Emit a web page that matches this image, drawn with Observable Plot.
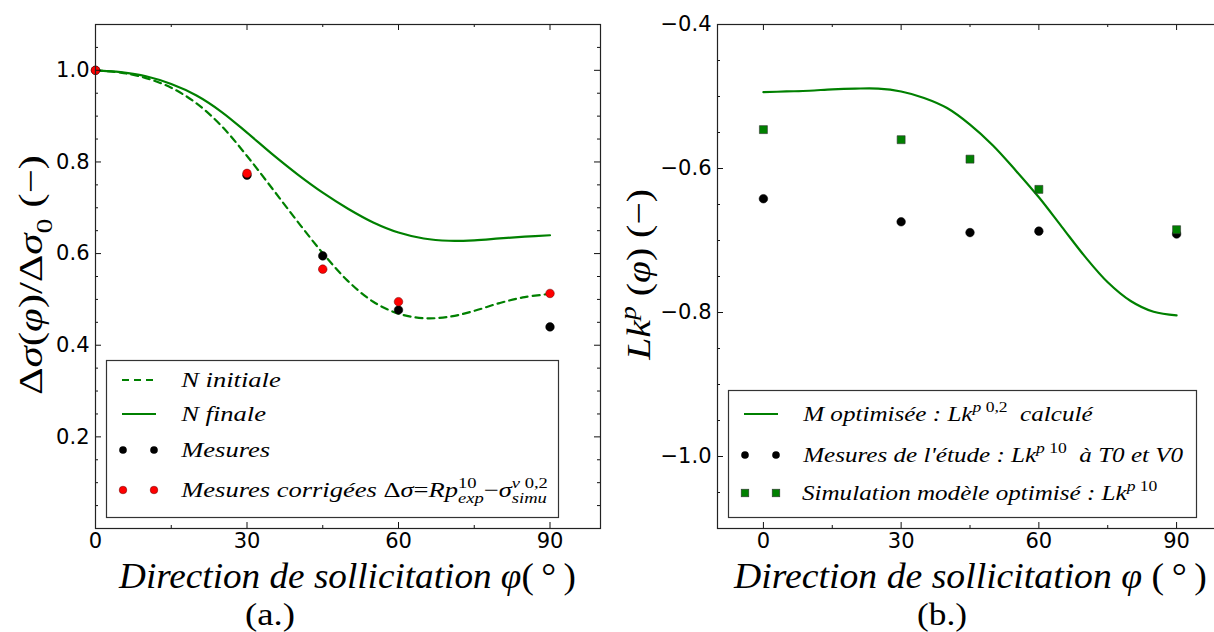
<!DOCTYPE html>
<html>
<head>
<meta charset="utf-8">
<script src="https://cdn.jsdelivr.net/npm/d3@7"></script>
<script src="https://cdn.jsdelivr.net/npm/@observablehq/plot@0.6"></script>
<style>
  body { margin: 0; background: #fff; }
  #wrap { position: relative; width: 1214px; height: 632px; overflow: hidden; background: #fff; }
  #wrap > svg { position: absolute; }
</style>
</head>
<body>
<div id="wrap"></div>
<script>
// ---------- Panel (a.) data ----------
const phiCurveA = [0, 5, 10, 15, 20, 25, 30, 35, 40, 45, 50, 55, 60, 65, 70, 75, 80, 85, 90];
const nInitiale = [1.000, 0.995, 0.983, 0.962, 0.928, 0.878, 0.813, 0.742, 0.670, 0.601, 0.540, 0.495, 0.469, 0.459, 0.462, 0.475, 0.492, 0.505, 0.512];
const nFinale   = [1.000, 0.996, 0.987, 0.970, 0.945, 0.909, 0.864, 0.817, 0.773, 0.733, 0.698, 0.668, 0.646, 0.633, 0.628, 0.629, 0.633, 0.637, 0.640];
const phiMesA = [0, 30, 45, 60, 90];
const mesures = [1.000, 0.771, 0.595, 0.477, 0.440];
const mesuresCorrigees = [1.000, 0.775, 0.566, 0.495, 0.513];

// ---------- Panel (b.) data ----------
const phiCurveB = [0, 5, 10, 15, 20, 25, 30, 35, 40, 45, 50, 55, 60, 65, 70, 75, 80, 85, 90];
const lkCalcule = [-0.494, -0.493, -0.492, -0.490, -0.489, -0.489, -0.493, -0.502, -0.516, -0.539, -0.568, -0.603, -0.640, -0.681, -0.722, -0.758, -0.784, -0.799, -0.804];
const phiMesB = [0, 30, 45, 60, 90];
const lkMesures = [-0.642, -0.674, -0.689, -0.687, -0.691];
const lkSimulation = [-0.546, -0.560, -0.587, -0.629, -0.685];

// ---------- ticks ----------
const xTicks = [0, 30, 60, 90];
const xMinorTicks = [15, 45, 75];
const yTicksA = [0.2, 0.4, 0.6, 0.8, 1.0];
const yTickLabelsA = ["0.2", "0.4", "0.6", "0.8", "1.0"];
const yMinorA = [0.05, 0.1, 0.15, 0.25, 0.3, 0.35, 0.45, 0.5, 0.55, 0.65, 0.7, 0.75, 0.85, 0.9, 0.95, 1.05];
const yTicksB = [-0.4, -0.6, -0.8, -1.0];
const yTickLabelsB = ["−0.4", "−0.6", "−0.8", "−1.0"];
const yMinorB = [-0.45, -0.5, -0.55, -0.65, -0.7, -0.75, -0.85, -0.9, -0.95, -1.05];

const GREEN = "#008000", RED = "#ff0000";
const SERIF = "'Liberation Serif', 'DejaVu Serif', serif";
const SANS = "'DejaVu Sans', sans-serif";

function panel({width, height, mL, mR, mT, mB, xDomain, yDomain, yMajor, yMinor, yLabels, marks}) {
  const fw = width - mL - mR, fh = height - mT - mB;
  const M = 6, m = 3;
  const tk = {stroke: "#111", strokeWidth: 1};
  return Plot.plot({
    width, height,
    marginLeft: mL, marginRight: mR, marginTop: mT, marginBottom: mB,
    x: {domain: xDomain},
    y: {domain: yDomain},
    style: {fontFamily: SANS, fontSize: "21px", color: "#000", background: "transparent", overflow: "visible"},
    marks: [
      ...marks,
      Plot.tickX(xTicks, {x: d => d, insetTop: fh - M, ...tk}),
      Plot.tickX(xTicks, {x: d => d, insetBottom: fh - M, ...tk}),
      Plot.tickX(xMinorTicks, {x: d => d, insetTop: fh - m, ...tk}),
      Plot.tickX(xMinorTicks, {x: d => d, insetBottom: fh - m, ...tk}),
      Plot.tickY(yMajor, {y: d => d, insetRight: fw - M, ...tk}),
      Plot.tickY(yMajor, {y: d => d, insetLeft: fw - M, ...tk}),
      Plot.tickY(yMinor, {y: d => d, insetRight: fw - m, ...tk}),
      Plot.tickY(yMinor, {y: d => d, insetLeft: fw - m, ...tk}),
      Plot.frame({stroke: "#222", strokeWidth: 1.2}),
      Plot.axisX(xTicks, {tickSize: 0, tickPadding: 5, label: null, tickFormat: d => String(d)}),
      Plot.axisY(yMajor, {tickSize: 0, tickPadding: 6, label: null, tickFormat: d => yLabels[yMajor.indexOf(d)]})
    ]
  });
}

const wrap = document.getElementById("wrap");

// Panel (a.)
const plotA = panel({
  width: 610, height: 560, mL: 95, mR: 10, mT: 24, mB: 32,
  xDomain: [0, 100], yDomain: [0, 1.1],
  yMajor: yTicksA, yMinor: yMinorA, yLabels: yTickLabelsA,
  marks: [
    Plot.line(nInitiale, {x: phiCurveA, y: d => d, stroke: GREEN, strokeWidth: 2.2, strokeDasharray: "7,5", curve: "catmull-rom"}),
    Plot.line(nFinale, {x: phiCurveA, y: d => d, stroke: GREEN, strokeWidth: 2.2, curve: "catmull-rom"}),
    Plot.dot(mesures, {x: phiMesA, y: d => d, r: 4.3, fill: "#000", stroke: "#000", strokeWidth: 0.5}),
    Plot.dot(mesuresCorrigees, {x: phiMesA, y: d => d, r: 4.3, fill: RED, stroke: "#600", strokeWidth: 0.5})
  ]
});
plotA.style.left = "0px"; plotA.style.top = "0px";
wrap.appendChild(plotA);

// Panel (b.)
const plotB = panel({
  width: 622, height: 560, mL: 107, mR: 10, mT: 24, mB: 32,
  xDomain: [-10, 100], yDomain: [-1.1, -0.4],
  yMajor: yTicksB, yMinor: yMinorB, yLabels: yTickLabelsB,
  marks: [
    Plot.line(lkCalcule, {x: phiCurveB, y: d => d, stroke: GREEN, strokeWidth: 2.2, curve: "catmull-rom"}),
    Plot.dot(lkMesures, {x: phiMesB, y: d => d, r: 4.3, fill: "#000", stroke: "#000", strokeWidth: 0.5}),
    Plot.dot(lkSimulation, {x: phiMesB, y: d => d, r: 4.5, symbol: "square", fill: GREEN, stroke: "#333", strokeWidth: 0.6})
  ]
});
plotB.style.left = "610px"; plotB.style.top = "0px";
wrap.appendChild(plotB);

// ---------- overlay: titles, legends, captions ----------
const ov = d3.select(wrap).append("svg")
  .attr("width", 1214).attr("height", 632)
  .style("left", "0px").style("top", "0px").style("pointer-events", "none");

// parts: {t, i} plain run; {sup:[[text, italic],...], sub:[[text, italic],...]} stacked scripts
function rich(parent, parts, {x, y, size, anchor = "start", target = null, sx = null, rotate = 0}) {
  const g = parent.append("g");
  const t = g.append("text").attr("font-family", SERIF).attr("font-size", size)
    .attr("fill", "#000").style("white-space", "pre");
  const ss = size * 0.7, up = -size * 0.42, dn = size * 0.3;
  let cur = 0, pendingDx = 0;
  const runs = (list, shift) => {
    let w = 0;
    list.forEach(([txt, it], j) => {
      const s = t.append("tspan").text(txt).attr("font-style", it ? "italic" : "normal").attr("font-size", ss);
      if (j === 0) { s.attr("dy", shift - cur); cur = shift; }
      w += s.node().getComputedTextLength();
      if (j === 0) runs.first = s;
    });
    return w;
  };
  for (const p of parts) {
    if (p.t !== undefined) {
      const s = t.append("tspan").text(p.t).attr("font-style", p.i ? "italic" : "normal").attr("font-size", size);
      if (cur) s.attr("dy", -cur);
      cur = 0;
      if (pendingDx) s.attr("dx", pendingDx);
      pendingDx = 0;
    } else {
      let w1 = 0, w2 = 0;
      if (p.sup) {
        w1 = runs(p.sup, up);
        if (pendingDx) runs.first.attr("dx", pendingDx);
        pendingDx = 0;
      }
      if (p.sub) {
        w2 = runs(p.sub, dn);
        if (w1) runs.first.attr("dx", -w1);
        pendingDx = Math.max(0, w1 - w2);
      }
    }
  }
  const bb = t.node().getBBox();
  const k = target ? target / bb.width : (sx || 1);
  const ox = anchor === "middle" ? -(bb.x + bb.width / 2) : -bb.x;
  g.attr("transform", `translate(${x},${y}) rotate(${rotate}) scale(${k},1) translate(${ox},0)`);
  return {g, width: bb.width};
}

// Axis titles
rich(ov, [{t: "Direction de sollicitation φ", i: 1}, {t: "(\u2009°\u2009)"}],
  {x: 347, y: 588, size: 35, anchor: "middle", target: 458});
rich(ov, [{t: "Direction de sollicitation φ ", i: 1}, {t: "(\u2009°\u2009)"}],
  {x: 970, y: 588, size: 35, anchor: "middle", target: 474});
rich(ov, [{t: "Δ"}, {t: "σ", i: 1}, {t: "("}, {t: "φ", i: 1}, {t: ")/Δ"}, {t: "σ", i: 1}, {sub: [["0", 0]]}, {t: " (−)"}],
  {x: 42, y: 275, size: 34, anchor: "middle", target: 240, rotate: -90});
rich(ov, [{t: "Lk", i: 1}, {sup: [["p", 1]]}, {t: " ("}, {t: "φ", i: 1}, {t: ") (−)"}],
  {x: 650, y: 275, size: 34, anchor: "middle", target: 172, rotate: -90});

// Captions
rich(ov, [{t: "(a.)"}], {x: 270, y: 625, size: 32, anchor: "middle", target: 50});
rich(ov, [{t: "(b.)"}], {x: 942, y: 625, size: 32, anchor: "middle", target: 50});

// Legend (a.)
const legA = ov.append("g");
legA.append("rect").attr("x", 106.5).attr("y", 360.5).attr("width", 452).attr("height", 157)
  .attr("fill", "#fff").attr("stroke", "#333").attr("stroke-width", 1.2);
const rowsA = [380, 414, 450, 490];
legA.append("line").attr("x1", 122).attr("x2", 156).attr("y1", rowsA[0]).attr("y2", rowsA[0])
  .attr("stroke", GREEN).attr("stroke-width", 2.2).attr("stroke-dasharray", "7,5");
legA.append("line").attr("x1", 122).attr("x2", 156).attr("y1", rowsA[1]).attr("y2", rowsA[1])
  .attr("stroke", GREEN).attr("stroke-width", 2.2);
[123, 154].forEach(cx => {
  legA.append("circle").attr("cx", cx).attr("cy", rowsA[2]).attr("r", 3.8).attr("fill", "#000");
  legA.append("circle").attr("cx", cx).attr("cy", rowsA[3]).attr("r", 3.8).attr("fill", RED).attr("stroke", "#600").attr("stroke-width", 0.5);
});
const legTextA = [
  [{t: "N initiale", i: 1}],
  [{t: "N finale", i: 1}],
  [{t: "Mesures", i: 1}],
  [{t: "Mesures corrigées ", i: 1}, {t: "Δ"}, {t: "σ", i: 1}, {t: "="}, {t: "Rp", i: 1},
   {sup: [["10", 0]], sub: [["exp", 1]]}, {t: "−"}, {t: "σ", i: 1}, {sup: [["v", 1], [" 0,2", 0]], sub: [["simu", 1]]}]
];
{
  const probe = rich(legA, legTextA[3], {x: -2000, y: -2000, size: 21});
  const k = 368 / probe.width;
  probe.g.remove();
  legTextA.forEach((parts, i) => rich(legA, parts, {x: 180, y: rowsA[i] + 7, size: 21, sx: k}));
}

// Legend (b.)
const legB = ov.append("g");
legB.append("rect").attr("x", 728.5).attr("y", 390.5).attr("width", 468).attr("height", 127)
  .attr("fill", "#fff").attr("stroke", "#333").attr("stroke-width", 1.2);
const rowsB = [414, 455, 493];
legB.append("line").attr("x1", 744).attr("x2", 778).attr("y1", rowsB[0]).attr("y2", rowsB[0])
  .attr("stroke", GREEN).attr("stroke-width", 2.2);
[745, 776].forEach(cx => {
  legB.append("circle").attr("cx", cx).attr("cy", rowsB[1]).attr("r", 3.8).attr("fill", "#000");
  legB.append("rect").attr("x", cx - 3.8).attr("y", rowsB[2] - 3.8).attr("width", 7.6).attr("height", 7.6)
    .attr("fill", GREEN).attr("stroke", "#333").attr("stroke-width", 0.6);
});
const legTextB = [
  [{t: "M optimisée : Lk", i: 1}, {sup: [["p", 1], [" 0,2", 0]]}, {t: "  calculé", i: 1}],
  [{t: "Mesures de l'étude : Lk", i: 1}, {sup: [["p", 1], [" 10", 0]]}, {t: "  à T0 et V0", i: 1}],
  [{t: "Simulation modèle optimisé : Lk", i: 1}, {sup: [["p", 1], [" 10", 0]]}]
];
{
  const probe = rich(legB, legTextB[1], {x: -2000, y: -2000, size: 21});
  const k = 382 / probe.width;
  probe.g.remove();
  legTextB.forEach((parts, i) => rich(legB, parts, {x: 802, y: rowsB[i] + 7, size: 21, sx: k}));
}
</script>
</body>
</html>
